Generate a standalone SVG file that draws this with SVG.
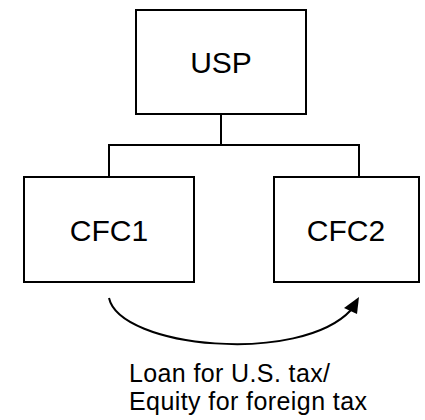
<svg xmlns="http://www.w3.org/2000/svg" width="425" height="420" viewBox="0 0 425 420">
  <style>
    .box { fill: #ffffff; stroke: #000000; stroke-width: 2; }
    .lbl { font-family: "Liberation Sans", Arial, sans-serif; fill: #000000; }
    .node { font-size: 30px; text-anchor: middle; }
    .note { font-size: 25px; }
    .wire { fill: none; stroke: #000000; stroke-width: 2; }
  </style>
  <rect width="425" height="420" fill="#ffffff"/>

  <!-- ownership lines and the loan/equity arrow -->
  <g id="connectors">
    <polyline class="wire" points="221,114 221,145"/>
    <polyline class="wire" points="109,177 109,145 359,145 359,177"/>
    <path class="wire" d="M109,298 C120,348 300,365 351,310"/>
    <polygon points="359,297 344,308 357,314" fill="#000000"/>
  </g>

  <g id="usp">
    <rect class="box" x="136" y="10" width="170" height="104"/>
    <text class="lbl node" x="221" y="73">USP</text>
  </g>

  <g id="cfc1">
    <rect class="box" x="24" y="177" width="170" height="105"/>
    <text class="lbl node" x="109" y="241">CFC1</text>
  </g>

  <g id="cfc2">
    <rect class="box" x="274" y="177" width="145" height="105"/>
    <text class="lbl node" x="346" y="241">CFC2</text>
  </g>

  <!-- two-line caption under the arrow -->
  <g id="arrow-label">
    <text class="lbl note" x="129" y="382" textLength="201">Loan for U.S. tax/</text>
    <text class="lbl note" x="129" y="410" textLength="238">Equity for foreign tax</text>
  </g>
</svg>
